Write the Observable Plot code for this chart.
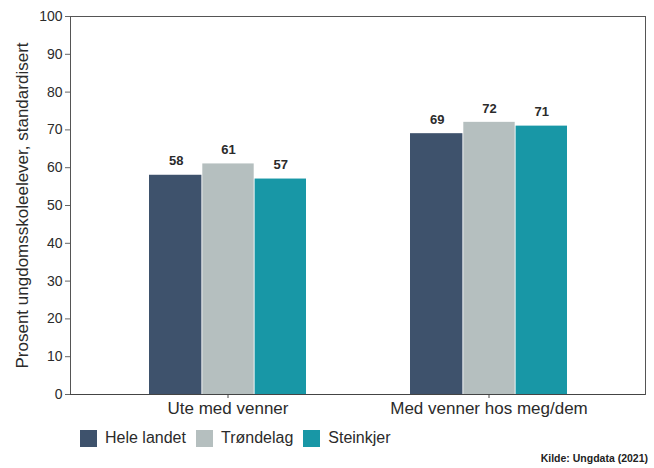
<!DOCTYPE html>
<html>
<head>
<meta charset="utf-8">
<script src="https://cdn.jsdelivr.net/npm/d3@7"></script>
<script src="https://cdn.jsdelivr.net/npm/@observablehq/plot@0.6"></script>
<style>
  html, body { margin: 0; padding: 0; background: #fff; }
  body { width: 654px; height: 468px; overflow: hidden; font-family: "Liberation Sans", Arial, sans-serif; color: #2b2b2b; }
  #legend { display: flex; align-items: center; margin-left: 80px; margin-top: 4px; font-size: 16px; height: 20px; }
  .item { display: flex; align-items: center; margin-right: 10px; }
  .sw { width: 17px; height: 17px; margin-right: 8px; }
  #caption { text-align: right; font-size: 10.5px; font-weight: bold; margin-right: 6px; margin-top: 4px; color: #222; }
</style>
</head>
<body>
<div id="chart"></div>
<div id="legend"></div>
<div id="caption"></div>
<script>
const categories = ["Ute med venner", "Med venner hos meg/dem"];
const series = ["Hele landet", "Trøndelag", "Steinkjer"];
const valuesHeleLandet = [58, 69];
const valuesTrondelag = [61, 72];
const valuesSteinkjer = [57, 71];
const yTicks = [0, 10, 20, 30, 40, 50, 60, 70, 80, 90, 100];
const colors = ["#3e526c", "#b5bfbf", "#1897a6"];
const yLabel = "Prosent ungdomsskoleelever, standardisert";
const source = "Kilde: Ungdata (2021)";

const seriesValues = [valuesHeleLandet, valuesTrondelag, valuesSteinkjer];
const rows = [];
series.forEach((s, i) => categories.forEach((c, j) => rows.push({category: c, series: s, si: i, value: seriesValues[i][j]})));

const slot = 52.3; // bar slot width in px within each group band
const barMarks = series.map((s, i) => Plot.barY(rows.filter(d => d.si === i), {
  x: "category", y: "value", fill: colors[i],
  insetLeft: i * slot + (i > 0 ? 1 : 0), insetRight: (2 - i) * slot
}));
const textMarks = series.map((s, i) => Plot.text(rows.filter(d => d.si === i), {
  x: "category", y: "value", text: d => String(d.value),
  dx: (i - 1) * slot + 0.5, dy: -14, fontWeight: "bold", fontSize: 13, fill: "#2b2b2b"
}));

const chart = Plot.plot({
  width: 654,
  height: 424,
  marginLeft: 70,
  marginRight: 9,
  marginTop: 16,
  marginBottom: 30,
  style: {fontFamily: "Liberation Sans, Arial, sans-serif", color: "#2b2b2b", background: "#fff"},
  x: {domain: categories, paddingInner: 0.4, paddingOuter: 0.3},
  y: {domain: [0, 100]},
  marks: [
    ...barMarks,
    ...textMarks,
    Plot.frame({stroke: "#555", strokeWidth: 1}),
    Plot.ruleY([0], {stroke: "#444"}),
    Plot.axisY(yTicks, {tickSize: 5, tickPadding: 3, fontSize: 14, label: null, stroke: "#666"}),
    Plot.text([yLabel], {frameAnchor: "left", textAnchor: "middle", lineAnchor: "middle", rotate: -90, dx: -48, fontSize: 17, fill: "#2b2b2b", text: d => d}),
    Plot.axisX({tickSize: 4, tickPadding: 3, fontSize: 17, label: null, stroke: "#444"})
  ]
});
document.getElementById("chart").appendChild(chart);

const legend = document.getElementById("legend");
series.forEach((s, i) => {
  const it = document.createElement("div"); it.className = "item";
  const sw = document.createElement("div"); sw.className = "sw"; sw.style.background = colors[i];
  const t = document.createElement("span"); t.textContent = s;
  it.appendChild(sw); it.appendChild(t); legend.appendChild(it);
});
document.getElementById("caption").textContent = source;
</script>
</body>
</html>
